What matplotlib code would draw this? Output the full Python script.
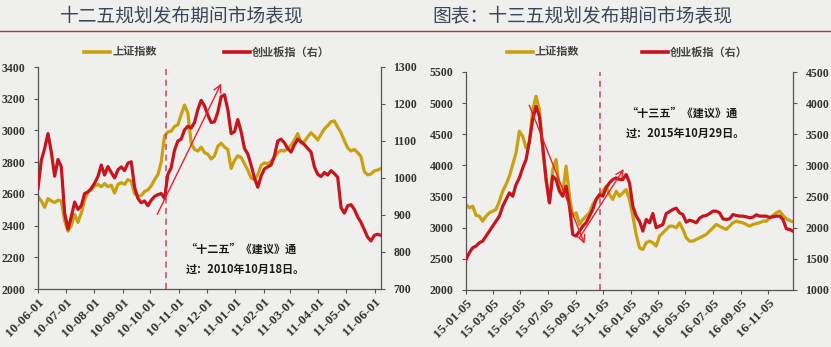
import matplotlib
matplotlib.use("Agg")
import matplotlib.pyplot as plt
import matplotlib.dates as mdates
from matplotlib.lines import Line2D
import pandas as pd

# 十二五: 2010-06 ~ 2011-06
sh_12 = [2583, 2555, 2515, 2570, 2555, 2545, 2560, 2555, 2430, 2365,
         2400, 2470, 2420, 2480, 2560, 2614, 2625, 2650, 2660, 2645,
         2665, 2645, 2655, 2605, 2660, 2670, 2660, 2690, 2680, 2600,
         2585, 2590, 2615, 2625, 2650, 2690, 2720, 2800, 2965, 2990,
         2995, 3025, 3035, 3100, 3160, 3110, 2920, 2880, 2870, 2895,
         2860, 2850, 2820, 2840, 2900, 2920, 2895, 2880, 2760, 2810,
         2840, 2830, 2790, 2750, 2700, 2690, 2720, 2780, 2795, 2790,
         2805, 2830, 2860, 2875, 2870, 2886, 2905, 2940, 2980, 2920,
         2930, 2960, 2985, 2965, 2940, 2975, 3010, 3030, 3055, 3060,
         3020, 2985, 2935, 2890, 2870, 2880, 2860, 2835, 2740, 2720,
         2725, 2745, 2750, 2760]
cyb_12 = [972, 1048, 1080, 1120, 1070, 1005, 1050, 1030, 905, 862,
          895, 935, 915, 925, 958, 962, 972, 986, 1004, 1035,
          1008, 1031, 1015, 1000, 1022, 1030, 1020, 1040, 1044, 975,
          945, 933, 938, 925, 940, 950, 955, 958, 945, 1010,
          1028, 1075, 1100, 1105, 1130, 1140, 1135, 1150, 1185, 1210,
          1195, 1170, 1150, 1152, 1178, 1220, 1225, 1185, 1120, 1125,
          1158, 1125, 1080, 1065, 1035, 1000, 975, 1005, 1025, 1030,
          1035, 1060, 1100, 1105, 1095, 1080, 1070, 1090, 1105, 1098,
          1090, 1080, 1070, 1030, 1010, 1004, 1015, 1008, 1020, 1012,
          1002, 920, 905, 925, 928, 915, 895, 880, 860, 840,
          830, 845, 848, 845]

# 十三五: 2015-01 ~ 2016-12
sh_13 = [3373, 3319, 3346, 3200, 3186, 3105, 3186, 3239, 3266, 3293,
         3426, 3587, 3693, 3827, 4014, 4201, 4549, 4468, 4281, 4361,
         4896, 5110, 4896, 4255, 3774, 3400, 3934, 4094, 3613, 3560,
         3987, 3506, 3186, 3239, 3052, 3132, 3186, 3239, 3373, 3453,
         3506, 3587, 3667, 3533, 3453, 3587, 3506, 3560, 3613, 3453,
         3186, 2892, 2678, 2651, 2758, 2785, 2758, 2705, 2865, 2918,
         2972, 3025, 3025, 2998, 3079, 2972, 2838, 2785, 2785, 2811,
         2838, 2865, 2892, 2945, 2998, 3052, 3025, 2998, 2972, 3025,
         3079, 3105, 3090, 3079, 3052, 3025, 3052, 3068, 3079, 3105,
         3105, 3159, 3196, 3239, 3266, 3196, 3143, 3116, 3095]
cyb_13 = [1491, 1598, 1678, 1705, 1758, 1785, 1865, 1945, 2025, 2105,
          2186, 2346, 2453, 2560, 2506, 2693, 2800, 2961, 3094, 3388,
          3736, 3949, 3789, 3308, 2774, 2399, 2827, 2774, 2586, 2506,
          2667, 2346, 1892, 1865, 1945, 2025, 2079, 2186, 2293, 2453,
          2533, 2506, 2640, 2720, 2774, 2800, 2774, 2774, 2854, 2720,
          2346, 2186, 2105, 1945, 2132, 2079, 2228, 2001, 2025, 2052,
          2228, 2260, 2293, 2314, 2239, 2212, 2089, 2121, 2105, 2079,
          2153, 2186, 2196, 2228, 2266, 2266, 2239, 2143, 2132, 2143,
          2212, 2196, 2186, 2186, 2175, 2159, 2170, 2207, 2186, 2186,
          2186, 2164, 2175, 2186, 2186, 2132, 1983, 1972, 1945]

dates_12 = pd.date_range("2010-06-01", "2011-06-08", periods=len(sh_12))
dates_13 = pd.date_range("2015-01-05", "2016-12-30", periods=len(sh_13))

BG = "#efefed"
GOLD = "#c9a010"
RED = "#c8141e"
INK = "#333333"
CJK = ["Noto Sans CJK SC", "DejaVu Sans"]
NUM = "Liberation Serif"

fig = plt.figure(figsize=(8.31, 3.47), dpi=100, facecolor=BG)
W, H = 831, 347


def box(x0, y0, x1, y1):
    return [x0 / W, 1 - y1 / H, (x1 - x0) / W, (y1 - y0) / H]


def style(ax, side):
    ax.set_facecolor("none")
    for s in ["top", "left", "right", "bottom"]:
        ax.spines[s].set_visible(False)
    ax.spines[side].set_visible(True)
    ax.spines[side].set_color("#555555")
    ax.spines[side].set_linewidth(0.9)
    ax.tick_params(axis="y", direction="out", length=3, width=0.8,
                   color="#555555", pad=6)
    for lab in ax.get_yticklabels():
        lab.set_fontfamily(NUM)
        lab.set_fontweight("bold")
        lab.set_fontsize(8.5)
        lab.set_color(INK)


def panel(rect, dates, left, right, lticks, rticks, xticks, mark,
          arrows, note_xy, note):
    ax = fig.add_axes(rect)
    ax.set_facecolor(BG)
    ax.plot(dates, left, color=GOLD, lw=2.3, solid_joinstyle="round")
    ax.set_ylim(lticks[0], lticks[-1])
    ax.set_yticks(lticks)
    ax.set_xlim(dates[0], dates[-1])
    ax.set_xticks(xticks)
    ax.xaxis.set_major_formatter(mdates.DateFormatter("%y-%m-%d"))
    style(ax, "left")
    ax.spines["bottom"].set_visible(True)
    ax.spines["bottom"].set_color("#555555")
    ax.spines["bottom"].set_linewidth(0.9)
    ax.tick_params(axis="x", direction="out", length=3, width=0.8,
                   color="#555555", pad=2)
    for lab in ax.get_xticklabels():
        lab.set_fontfamily(NUM)
        lab.set_fontweight("bold")
        lab.set_fontsize(9.5)
        lab.set_color(INK)
        lab.set_rotation(45)
        lab.set_ha("right")
        lab.set_rotation_mode("anchor")
    ax.axvline(pd.Timestamp(mark), color="#c84a5a", lw=1.1, ls=(0, (4, 3)))

    ax2 = ax.twinx()
    ax2.plot(dates, right, color=RED, lw=2.3, solid_joinstyle="round")
    ax2.set_ylim(rticks[0], rticks[-1])
    ax2.set_yticks(rticks)
    style(ax2, "right")

    for (d0, v0), (d1, v1) in arrows:
        ax2.annotate("", xy=(pd.Timestamp(d1), v1),
                     xytext=(pd.Timestamp(d0), v0),
                     arrowprops=dict(arrowstyle="->", color="#e8202a",
                                     lw=1.0, mutation_scale=13))

    ax.text(note_xy[0], note_xy[1], note, transform=ax.transAxes,
            family=CJK, fontsize=8, fontweight="bold", color="#1a1a1a",
            ha="left", va="top", linespacing=1.7)
    return ax, ax2


panel(box(38, 67, 381, 289), dates_12, sh_12, cyb_12,
      list(range(2000, 3401, 200)), list(range(700, 1301, 100)),
      pd.date_range("2010-06-01", "2011-06-01", freq="MS"),
      "2010-10-18",
      [(("2010-10-07", 895), ("2010-12-18", 1262))],
      (0.43, 0.21),
      "\u201c十二五\u201d《建议》通\n过：2010年10月18日。")

panel(box(466, 72, 793, 290), dates_13, sh_13, cyb_13,
      list(range(2000, 5501, 500)), list(range(1000, 4501, 500)),
      pd.date_range("2015-01-05", periods=12, freq=pd.DateOffset(months=2)),
      "2015-10-29",
      [(("2015-05-23", 4008), ("2015-09-27", 1700)),
       (("2015-09-11", 1810), ("2015-12-24", 2980))],
      (0.49, 0.84),
      "\u201c十三五\u201d《建议》通\n过：2015年10月29日。")

# titles and the rule under them
fig.text(182 / W, 1 - 16 / H, "十二五规划发布期间市场表现", family=CJK,
         fontsize=13.5, color="#3c4656", ha="center", va="center")
fig.text(582 / W, 1 - 16 / H, "图表：十三五规划发布期间市场表现", family=CJK,
         fontsize=13.5, color="#3c4656", ha="center", va="center")
fig.add_artist(Line2D([0, 1], [1 - 31 / H, 1 - 31 / H], color="#b03a3a",
                      lw=1.0, transform=fig.transFigure))

# legends
for x_line, x_text, color, label in [
    (84, 113, GOLD, "上证指数"), (224, 252, RED, "创业板指（右）"),
    (507, 535, GOLD, "上证指数"), (642, 670, RED, "创业板指（右）"),
]:
    y = 1 - 52 / H
    fig.add_artist(Line2D([x_line / W, (x_line + 26) / W], [y, y],
                          color=color, lw=2.6, transform=fig.transFigure))
    fig.text(x_text / W, y, label, family=CJK, fontsize=8, fontweight="bold",
             color="#444444", ha="left", va="center")

fig.savefig("out.png", dpi=100, facecolor=BG)
